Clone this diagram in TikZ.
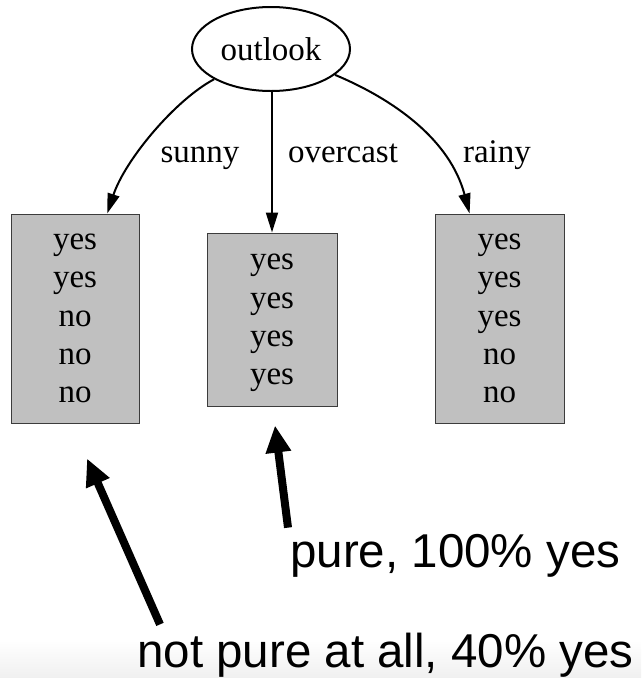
\documentclass[tikz,border=0pt]{standalone}
\usepackage{fontspec}
\setmainfont{Liberation Serif}
\newfontfamily\notefont{Liberation Sans}
\definecolor{LeafGray}{HTML}{C0C0C0}
\definecolor{LeafEdge}{HTML}{3C3C3C}
\usetikzlibrary{positioning,calc,arrows.meta,shapes.geometric}
\tikzset{
  attr/.style={draw,ellipse,line width=2pt,minimum width=158pt,minimum height=84pt,
    inner sep=0pt,font=\fontsize{33}{38.3}\selectfont},
  leaf/.style={draw=LeafEdge,fill=LeafGray,line width=1pt,minimum width=128pt,
    minimum height=209pt,inner sep=0pt,align=center,font=\fontsize{33}{38.3}\selectfont,
    text depth=-9pt},
  edge/.style={-{Triangle[length=20pt,width=12pt]},line width=2pt},
  elbl/.style={anchor=base,inner sep=0pt,font=\fontsize{33}{38.3}\selectfont},
  note/.style={anchor=base west,inner sep=0pt,font=\notefont\fontsize{47.5}{57}\selectfont},
  ptr/.style={-{Triangle[length=27pt,width=24pt]},line width=8pt},
}

\begin{document}
\begin{tikzpicture}[x=1pt,y=-1pt]
\useasboundingbox (0,0) rectangle (641,678);
\shade[top color=white,bottom color=black!6] (0,640) rectangle (641,678);

% split on outlook
\node[attr] (outlook) at (271,49) {outlook};
\node[leaf] (sunny) at (75,318.5) {yes\\yes\\no\\no\\no};
\node[leaf,minimum width=130pt,minimum height=173pt] (overcast) at (272,319.5)
  {yes\\yes\\yes\\yes};
\node[leaf,minimum width=129pt] (rainy) at (499.5,318.5) {yes\\yes\\yes\\no\\no};

\draw[edge] (outlook.208) .. controls (175,100) and (125,160) ..
  ($(sunny.north west)!0.75!(sunny.north east)$);
\draw[edge] (outlook.south -| overcast.north) -- (overcast.north);
\draw[edge] (outlook.-22) .. controls (395,100) and (450,140) ..
  ($(rainy.north west)!0.27!(rainy.north east)$);

\node[elbl] (lsunny) at (200,162) {sunny};
\node[elbl] (lover) at (343,162) {overcast};
\node[elbl] (lrainy) at (497,162) {rainy};

% purity notes
\node[note] (purelbl) at (290,567) {pure, 100\% yes};
\node[note] (mixlbl) at (137,667) {not pure at all, 40\% yes};
\coordinate (puretip) at ($(overcast.south)+(3,19)$);
\coordinate (mixtip) at ($(sunny.south)+(12,35)$);
\draw[ptr] ($(purelbl.north west)+(-2,-6)$) -- (puretip);
\draw[ptr] ($(mixlbl.north west)+(23,-8)$) -- (mixtip);
\end{tikzpicture}
\end{document}
